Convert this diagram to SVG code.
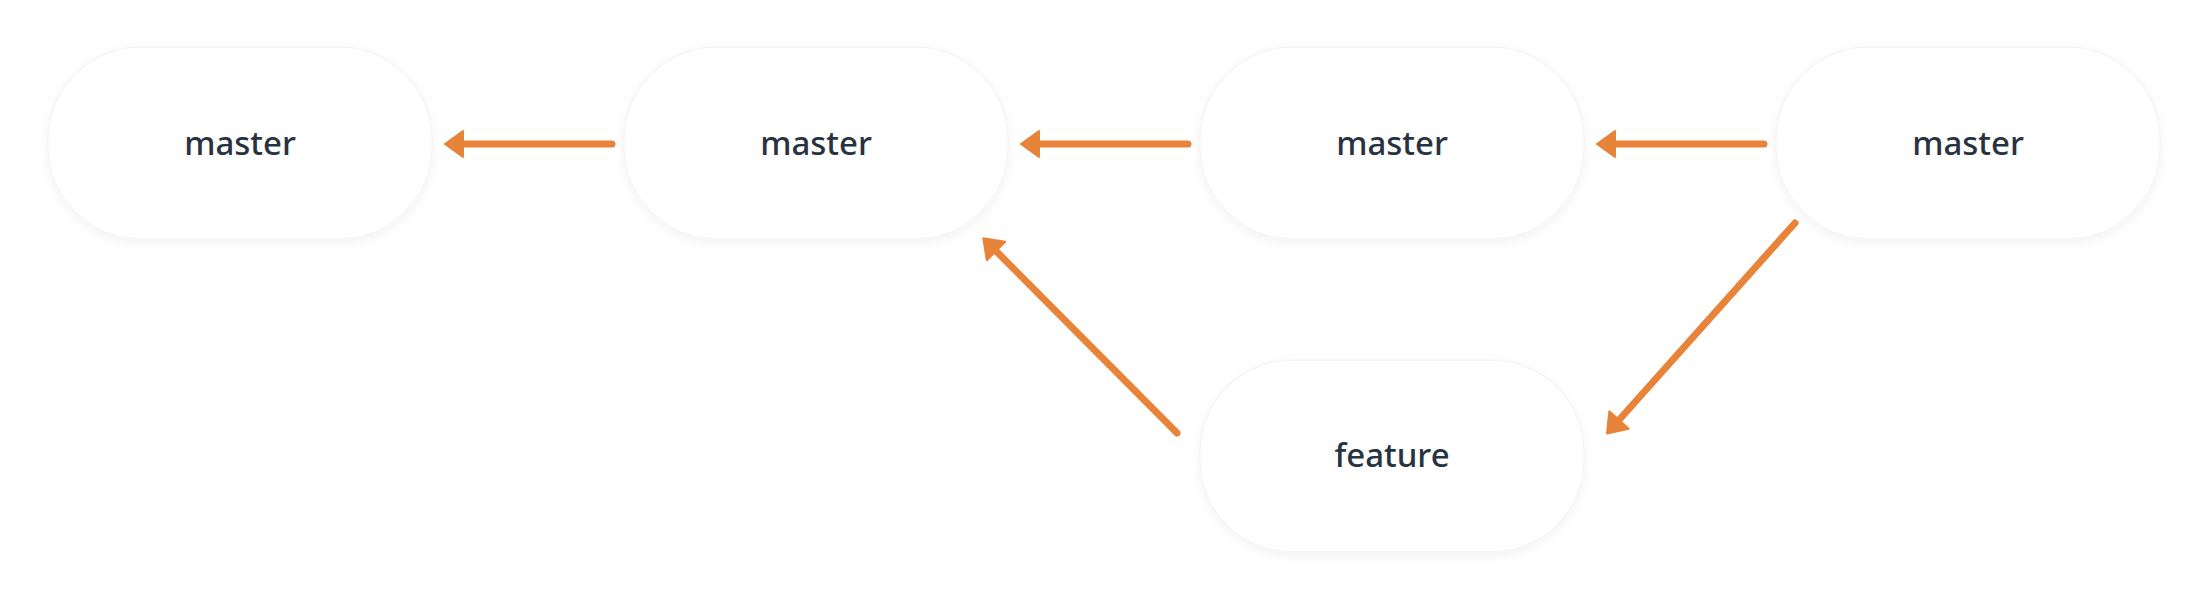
<svg xmlns="http://www.w3.org/2000/svg" width="2208" height="600" viewBox="0 0 2208 600">
  <style>
    .node rect { fill: #ffffff; stroke: #f5f5f5; stroke-width: 1.5; filter: url(#shadow); }
    .node text { font-family: "Noto Sans", "Open Sans", sans-serif; font-size: 33px; font-weight: 500; fill: #283341; text-anchor: middle; }
    .edge { fill: none; stroke: #e8843a; stroke-width: 7; stroke-linecap: round; marker-end: url(#arrow); }
  </style>
  <defs>
    <filter id="shadow" x="-10%" y="-20%" width="120%" height="140%">
      <feDropShadow dx="0" dy="3" stdDeviation="5" flood-color="#000000" flood-opacity="0.05"/>
    </filter>
    <marker id="arrow" markerUnits="userSpaceOnUse" viewBox="-2 -2 22 30" markerWidth="22" markerHeight="30" refX="0" refY="13" orient="auto">
      <path d="M18,13 L0,0 L0,26 Z" fill="#e8843a" stroke="#e8843a" stroke-width="2" stroke-linejoin="round"/>
    </marker>
  </defs>
  <rect width="2208" height="600" fill="#ffffff"/>
  <g id="connectors">
    <line class="edge" x1="612" y1="144" x2="463" y2="144"/>
    <line class="edge" x1="1188" y1="144" x2="1039" y2="144"/>
    <line class="edge" x1="1764" y1="144" x2="1615" y2="144"/>
    <line class="edge" x1="1177" y1="433" x2="996" y2="251"/>
    <line class="edge" x1="1795" y1="223" x2="1619" y2="420"/>
  </g>
  <g id="node-master-1" class="node">
    <rect x="48" y="47" width="384" height="192" rx="92" ry="92"/>
    <text x="240" y="155">master</text>
  </g>
  <g id="node-master-2" class="node">
    <rect x="624" y="47" width="384" height="192" rx="92" ry="92"/>
    <text x="816" y="155">master</text>
  </g>
  <g id="node-master-3" class="node">
    <rect x="1200" y="47" width="384" height="192" rx="92" ry="92"/>
    <text x="1392" y="155">master</text>
  </g>
  <g id="node-master-4" class="node">
    <rect x="1776" y="47" width="384" height="192" rx="92" ry="92"/>
    <text x="1968" y="155">master</text>
  </g>
  <g id="node-feature" class="node">
    <rect x="1200" y="360" width="384" height="192" rx="92" ry="92"/>
    <text x="1392" y="467">feature</text>
  </g>
</svg>
